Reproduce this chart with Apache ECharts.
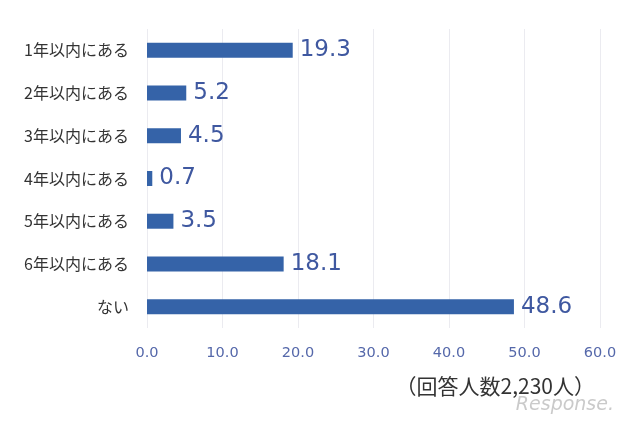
<!DOCTYPE html>
<html><head><meta charset="utf-8">
<script src="https://cdn.jsdelivr.net/npm/echarts@6/dist/echarts.min.js"></script>
<style>html,body{margin:0;padding:0;background:#fff}#c{width:640px;height:426px}</style>
</head><body><div id="c"></div>
<script>
const categories = ['1年以内にある','2年以内にある','3年以内にある','4年以内にある','5年以内にある','6年以内にある','ない'];
const values = [19.3, 5.2, 4.5, 0.7, 3.5, 18.1, 48.6];
const note = '（回答人数2,230人）';
const font = '"Noto Sans CJK JP", "Noto Sans", sans-serif';
const numFont = '"DejaVu Sans", "Noto Sans CJK JP", sans-serif';
const chart = echarts.init(document.getElementById('c'));
chart.setOption({
  backgroundColor: '#fff',
  animation: false,
  grid: {left: 147, right: 40, top: 29, bottom: 98, containLabel: false},
  xAxis: {
    type: 'value', min: 0, max: 60, interval: 10,
    axisLine: {show: false}, axisTick: {show: false},
    splitLine: {show: true, lineStyle: {color: '#ebebf0', width: 1}},
    axisLabel: {color: '#5568aa', fontSize: 14.5, fontFamily: numFont, margin: 18,
      formatter: v => v.toFixed(1)}
  },
  yAxis: {
    type: 'category', data: categories, inverse: true,
    axisLine: {show: false}, axisTick: {show: false},
    axisLabel: {color: '#333', fontSize: 16, fontFamily: font, margin: 18}
  },
  series: [{
    type: 'bar', data: values, barWidth: 15,
    itemStyle: {color: '#3563a8'},
    label: {show: true, position: 'right', distance: 7, color: '#3f58a0',
      fontSize: 23, fontFamily: numFont, padding: [4, 0, 0, 0], formatter: p => p.value.toFixed(1)}
  }],
  graphic: [
    {type: 'text', right: 45, top: 376, style: {text: note, fill: '#333', fontSize: 21, fontFamily: font}},
    {type: 'text', right: 26, top: 396, style: {text: 'Response.', fill: '#b8b8b8', fontSize: 19, fontFamily: numFont, fontStyle: 'italic', opacity: 0.75}}
  ]
});
</script></body></html>
